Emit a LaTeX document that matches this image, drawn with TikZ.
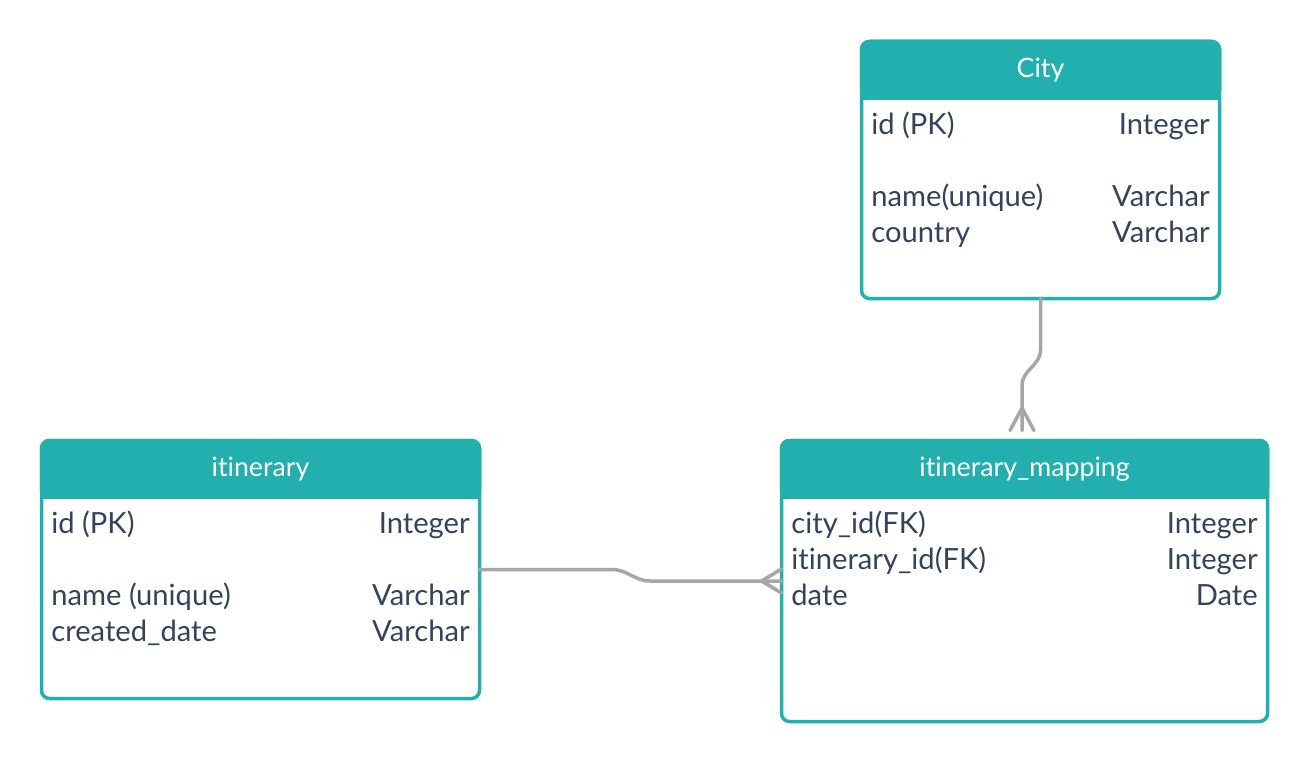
\documentclass[tikz,border=0pt]{standalone}
\usepackage{fontspec}
\setmainfont{Lato}[Ligatures=NoCommon]
\usetikzlibrary{calc}
\definecolor{tealer}{HTML}{22AFAE}
\definecolor{linkgray}{HTML}{A6A6A6}
\definecolor{ink}{HTML}{34425C}
\begin{document}
\begin{tikzpicture}[
		tbl/.style={draw=tealer, line width=0.07cm, rounded corners=0.16cm, outer sep=0pt, inner sep=0pt, anchor=north west},
		head/.style={tbl, fill=tealer, text=white, anchor=north, minimum height=1.13cm, font=\fontsize{15.2}{18}\selectfont},
		field/.style={anchor=base west, inner sep=0pt, text=ink},
		ftype/.style={field, anchor=base east},
		link/.style={draw=linkgray, line width=0.07cm, line cap=round},
		font=\fontsize{16.6}{19}\selectfont]
		\useasboundingbox (0,0) rectangle (26.16,-15.3);
		% tables
		\node[tbl, minimum width=7.16cm, minimum height=5.14cm] (city) at (17.23,-0.83) {};
		\node[head, minimum width=7.16cm] (cityhead) at (city.north) {City};
		\fill[tealer] ([shift={(-0.035,0.2)}]cityhead.south west) rectangle ([shift={(0.035,-0.035)}]cityhead.south east);
		\node[tbl, minimum width=8.76cm, minimum height=5.16cm] (itin) at (0.83,-8.81) {};
		\node[head, minimum width=8.76cm] (itinhead) at (itin.north) {itinerary};
		\fill[tealer] ([shift={(-0.035,0.2)}]itinhead.south west) rectangle ([shift={(0.035,-0.035)}]itinhead.south east);
		\node[tbl, minimum width=9.72cm, minimum height=5.62cm] (map) at (15.63,-8.81) {};
		\node[head, minimum width=9.72cm] (maphead) at (map.north) {itinerary\_mapping};
		\fill[tealer] ([shift={(-0.035,0.2)}]maphead.south west) rectangle ([shift={(0.035,-0.035)}]maphead.south east);
		% fields
		\node[field] (cityid) at ([shift={(0.19,-1.85)}]city.north west) {id (PK)};
		\node[ftype] (cityidt) at ([shift={(-0.19,-1.85)}]city.north east) {Integer};
		\node[field] (cityname) at ([shift={(0.19,-3.29)}]city.north west) {name(unique)};
		\node[ftype] (citynamet) at ([shift={(-0.19,-3.29)}]city.north east) {Varchar};
		\node[field] (citycountry) at ([shift={(0.19,-4.01)}]city.north west) {country};
		\node[ftype] (citycountryt) at ([shift={(-0.19,-4.01)}]city.north east) {Varchar};
		\node[field] (itinid) at ([shift={(0.19,-1.85)}]itin.north west) {id (PK)};
		\node[ftype] (itinidt) at ([shift={(-0.19,-1.85)}]itin.north east) {Integer};
		\node[field] (itinname) at ([shift={(0.19,-3.29)}]itin.north west) {name (unique)};
		\node[ftype] (itinnamet) at ([shift={(-0.19,-3.29)}]itin.north east) {Varchar};
		\node[field] (itindate) at ([shift={(0.19,-4.01)}]itin.north west) {created\_date};
		\node[ftype] (itindatet) at ([shift={(-0.19,-4.01)}]itin.north east) {Varchar};
		\node[field] (mapcity) at ([shift={(0.19,-1.85)}]map.north west) {city\_id(FK)};
		\node[ftype] (mapcityt) at ([shift={(-0.19,-1.85)}]map.north east) {Integer};
		\node[field] (mapitin) at ([shift={(0.19,-2.57)}]map.north west) {itinerary\_id(FK)};
		\node[ftype] (mapitint) at ([shift={(-0.19,-2.57)}]map.north east) {Integer};
		\node[field] (mapdate) at ([shift={(0.19,-3.29)}]map.north west) {date};
		\node[ftype] (mapdatet) at ([shift={(-0.19,-3.29)}]map.north east) {Date};
		% links
		\coordinate (cf) at ([shift={(-0.05,0.2)}]map.north);
		\draw[link] (city.south) -- ++(0,-1.03) to[out=-90,in=90] ($(cf)+(0,0.9)$) -- (cf);
		\draw[link] ($(cf)+(0,0.45)$) -- ($(cf)+(-0.24,0)$);
		\draw[link] ($(cf)+(0,0.45)$) -- ($(cf)+(0.24,0)$);
		\draw[link] (itin.east) -- ++(2.65,0) to[out=0,in=180] ($(map.west)+(-2.63,0)$) -- (map.west);
		\draw[link] ($(map.west)+(-0.4,0)$) -- ($(map.west)+(0,0.24)$);
		\draw[link] ($(map.west)+(-0.4,0)$) -- ($(map.west)+(0,-0.24)$);
\end{tikzpicture}
\end{document}
